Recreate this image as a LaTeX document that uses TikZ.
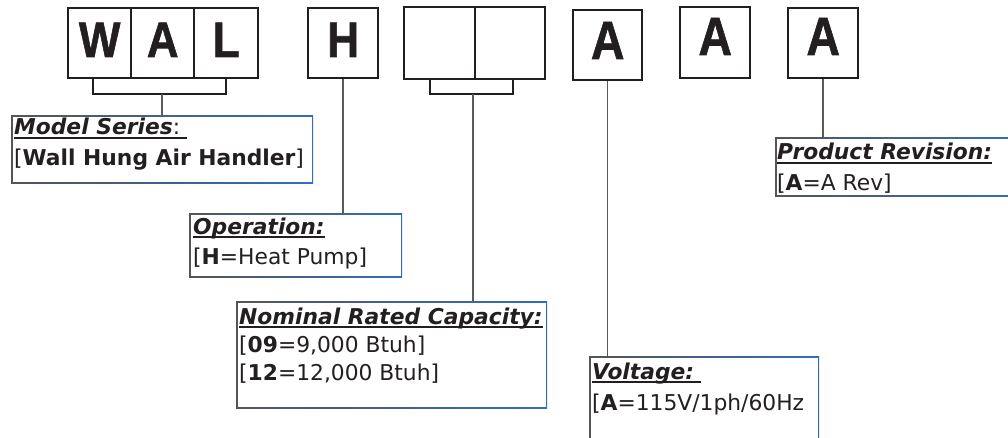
\documentclass[tikz,border=0pt]{standalone}
\usepackage{fontspec}
\setmainfont{DejaVu Sans}
\newfontfamily\bigfont{Liberation Sans Bold}[FakeBold=1.2]
\usetikzlibrary{calc}
\definecolor{txt}{RGB}{35,31,32}
\definecolor{bgray}{RGB}{85,85,85}
\definecolor{bblue}{RGB}{50,110,190}
\definecolor{stemc}{RGB}{90,90,90}
\newcommand\ulx[1]{\setbox0=\hbox{#1}\rlap{\rule[-3.6pt]{\wd0}{1.8pt}}\box0}
\newcommand\bigletter[2]{\scalebox{#1}[1]{#2}}
\begin{document}
\begin{tikzpicture}[x=1pt,y=-1pt,
  cell/.style={draw=txt, line width=2.4pt, inner sep=0pt, minimum height=70pt, anchor=north west},
  big/.style={font=\bigfont\fontsize{50}{50}\selectfont, text=txt, anchor=base, inner sep=0pt},
  bigA/.style={font=\bigfont\fontsize{54}{54}\selectfont, text=txt, anchor=base, inner sep=0pt},
  gbox/.style={rectangle, inner sep=0pt, anchor=north west, left color=bgray, right color=bblue,
    path picture={\fill[white] ([shift={(1.6pt,-1.6pt)}]path picture bounding box.north west) rectangle ([shift={(-1.6pt,1.6pt)}]path picture bounding box.south east);}},
  tx/.style={anchor=base west, inner sep=0pt, text=txt, font=\fontsize{21.8}{26}\selectfont},
  brk/.style={draw=txt, line width=2pt},
  stem/.style={draw=stemc, line width=1.5pt}
]
\useasboundingbox (0,0) rectangle (1008,438);
\clip (0,0) rectangle (1008,438);

% description boxes
\node[gbox, minimum width=302pt, minimum height=68pt] (ms) at (11,115) {};
\node[gbox, minimum width=213pt, minimum height=64pt] (op) at (189,213) {};
\node[gbox, minimum width=311pt, minimum height=107pt] (nom) at (236,301) {};
\node[gbox, minimum width=230pt, minimum height=100pt] (volt) at (589,356) {};
\node[gbox, minimum width=240pt, minimum height=59pt] (pr) at (775,137) {};

% letter cells
\node[cell, minimum width=63pt] (cW) at (67,7) {};
\node[cell, minimum width=63pt] (cA) at (130,7) {};
\node[cell, minimum width=64pt] (cL) at (193,7) {};
\node[cell, minimum width=70pt] (cH) at (307,7) {};
\node[cell, minimum width=71pt, minimum height=72pt] (cB1) at (403,6) {};
\node[cell, minimum width=70pt, minimum height=72pt] (cB2) at (474,6) {};
\node[cell, minimum width=69pt] (cA1) at (572,9) {};
\node[cell, minimum width=70pt, minimum height=71pt] (cA2) at (679,6) {};
\node[cell, minimum width=70pt] (cA3) at (787,7) {};

\node[big] (lW) at (cW.center |- 0,57) {\bigletter{0.88}{W}};
\node[big] (lA) at (cA.center |- 0,57) {\bigletter{0.88}{A}};
\node[big] (lL) at (cL.center |- 0,57) {\bigletter{0.88}{L}};
\node[big] (lH) at (cH.center |- 0,57) {\bigletter{0.88}{H}};
\node[bigA] (lA1) at (cA1.center |- 0,59) {\bigletter{0.86}{A}};
\node[bigA] (lA2) at (cA2.center |- 0,55) {\bigletter{0.86}{A}};
\node[bigA] (lA3) at (cA3.center |- 0,55) {\bigletter{0.86}{A}};

% brackets and connectors
\coordinate (b1a) at (93,77);
\coordinate (b1b) at (93,94);
\coordinate (b1c) at (226,94);
\coordinate (b1d) at (226,77);
\coordinate (b1m) at (162,94);
\draw[brk] (b1a) -- (b1b) -- (b1c) -- (b1d);
\draw[stem] (b1m) -- (b1m |- ms.north);

\draw[stem] (cH.south) -- (cH.south |- op.north);

\coordinate (b2a) at (430,78);
\coordinate (b2b) at (430,94);
\coordinate (b2c) at (513,94);
\coordinate (b2d) at (513,78);
\coordinate (b2m) at (473,94);
\draw[brk] (b2a) -- (b2b) -- (b2c) -- (b2d);
\draw[stem] (b2m) -- (b2m |- nom.north);

\draw[stem] (cA1.south) -- (cA1.south |- volt.north);
\draw[stem] (cA3.south) -- (cA3.south |- pr.north);

% texts
\node[tx] (msh) at (14,135) {\ulx{\textbf{\textit{Model Series}}:\ }};
\node[tx] (msv) at (14,166) {[\textbf{Wall Hung Air Handler}]};
\node[tx] (oph) at (193,234) {\ulx{\textbf{\textit{Operation:}}}};
\node[tx] (opv) at (193,264) {[\textbf{H}=Heat Pump]};
\node[tx] (nomh) at (239,324) {\ulx{\textbf{\textit{Nominal Rated Capacity:}}}};
\node[tx] (nom1) at (239,352) {[\textbf{09}=9,000 Btuh]};
\node[tx] (nom2) at (239,380) {[\textbf{12}=12,000 Btuh]};
\node[tx] (volth) at (592,379) {\ulx{\textbf{\textit{Voltage:}}\ }};
\node[tx] (voltv) at (592,410) {[\textbf{A}=115V/1ph/60Hz};
\node[tx] (prh) at (777,160) {\ulx{\textbf{\textit{Product Revision:}}}};
\node[tx] (prv) at (777,191) {[\textbf{A}=A Rev]};
\end{tikzpicture}
\end{document}
